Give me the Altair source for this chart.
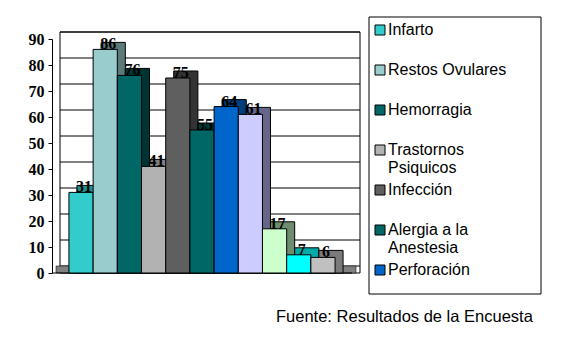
import altair as alt
import pandas as pd

categories = ["Infarto", "Restos Ovulares", "Hemorragia", "Trastornos Psiquicos",
              "Infección", "Alergia a la Anestesia", "Perforación",
              "Categoría 8", "Categoría 9", "Categoría 10", "Categoría 11"]
values = [31, 86, 76, 41, 75, 55, 64, 61, 17, 7, 6]
front_colors = ["#33CCCC", "#99CCCC", "#006666", "#B2B2B2", "#5F5F5F", "#006666",
                "#0066CC", "#CCCCFF", "#CCFFCC", "#00FFFF", "#C0C0C0"]
side_colors = ["#1F8F8F", "#5C7A7A", "#003333", "#808080", "#333333", "#003838",
               "#003D7A", "#66668A", "#6E8C6E", "#00A8A8", "#7A7A7A"]
legend_shown = categories[:7]
grid_values = [0, 10, 20, 30, 40, 50, 60, 70, 80, 90]
y_ticks = grid_values
caption = "Fuente: Resultados de la Encuesta"

df = pd.DataFrame({"cat": categories, "val": values, "front": front_colors, "side": side_colors})
ldf = pd.DataFrame({"cat": legend_shown, "idx": list(range(len(legend_shown))),
                    "front": front_colors[:len(legend_shown)]})
gdf = pd.DataFrame({"g": grid_values})

W, H = 300, 234
DX, DY = 8, -7

yscale = alt.Scale(domain=[0, 90], nice=False, zero=True)
xscale = alt.Scale(domain=categories, paddingInner=0, paddingOuter=0.7)
yaxis = alt.Axis(values=y_ticks, title=None, grid=False, domain=True,
                 domainColor="black", tickColor="black", tickSize=4,
                 labelOverlap=False, labelFlush=False,
                 labelFont="Liberation Serif", labelFontWeight="bold",
                 labelFontSize=16, labelColor="black", labelPadding=4)
xaxis = alt.Axis(labels=False, ticks=False, title=None, domain=False)

x_enc = alt.X("cat:N", scale=xscale, sort=categories, axis=xaxis)
y_enc = alt.Y("val:Q", scale=yscale, axis=yaxis, title=None)

base = alt.Chart(df)

wall = alt.Chart(gdf).transform_filter("datum.g == 90").mark_rect(
    fill="white", stroke="black", strokeWidth=1, yOffset=DY).encode(
    x=alt.value(DX), x2=alt.value(W + DX),
    y=alt.Y("g:Q", scale=yscale, axis=yaxis, title=None), y2=alt.datum(0))

grid = alt.Chart(gdf).mark_rule(color="black", strokeWidth=1, yOffset=DY).encode(
    x=alt.value(DX), x2=alt.value(W + DX), y=alt.Y("g:Q", scale=yscale, axis=yaxis, title=None))

floor = alt.Chart(gdf).transform_filter("datum.g == 0").mark_rect(
    fill="#808080", stroke="black", strokeWidth=0.5).encode(
    x=alt.value(4), x2=alt.value(W + 4),
    y=alt.value(H + DY), y2=alt.value(H))

baseline = alt.Chart(gdf).transform_filter("datum.g == 0").mark_rule(color="black").encode(
    x=alt.value(0), x2=alt.value(W), y=alt.Y("g:Q", scale=yscale, axis=yaxis, title=None))

shadow = base.mark_bar(stroke="black", strokeWidth=1, xOffset=DX, yOffset=DY).encode(
    x=x_enc, y=y_enc, y2=alt.datum(0),
    fill=alt.Fill("side:N", scale=None))

front = base.mark_bar(stroke="black", strokeWidth=1).encode(
    x=x_enc, y=y_enc, y2=alt.datum(0),
    fill=alt.Fill("front:N", scale=None))

labels = base.mark_text(font="Liberation Serif", fontWeight="bold", fontSize=16,
                        color="black", baseline="alphabetic", dx=3, dy=0).encode(
    x=x_enc, y=y_enc, text=alt.Text("val:Q"))

legend_box = alt.Chart(gdf).transform_filter("datum.g == 0").mark_rect(
    fill="white", stroke="black", strokeWidth=1).encode(
    x=alt.value(317), x2=alt.value(489), y=alt.value(-22), y2=alt.value(255))

legend_calc = alt.Chart(ldf).transform_calculate(
    ly="-9 + datum.idx * 40",
    lbl="datum.cat == 'Trastornos Psiquicos' ? 'Trastornos|Psiquicos' : "
        "datum.cat == 'Alergia a la Anestesia' ? 'Alergia a la|Anestesia' : datum.cat")

legend_sym = legend_calc.mark_square(size=100, stroke="black", strokeWidth=1, opacity=1).encode(
    x=alt.value(328), y=alt.Y("ly:Q", scale=None, axis=None),
    fill=alt.Fill("front:N", scale=None))

legend_txt = legend_calc.mark_text(font="Liberation Sans", fontSize=16, color="black",
                                   align="left", baseline="top", dy=-8, lineBreak="|",
                                   lineHeight=18).encode(
    x=alt.value(336), y=alt.Y("ly:Q", scale=None, axis=None), text="lbl:N")

cap = alt.Chart(gdf).transform_filter("datum.g == 0").mark_text(
    font="Liberation Sans", fontSize=16.5, color="black", align="left", baseline="middle").encode(
    x=alt.value(224), y=alt.value(278), text=alt.value(caption))

chart = alt.layer(wall, grid, floor, baseline, shadow, front, labels, legend_box,
                  legend_sym, legend_txt, cap).properties(
    width=W, height=H,
    autosize=alt.AutoSizeParams(type="none"),
    padding={"left": 52, "top": 39, "right": 215, "bottom": 80},
    background="white"
).configure_view(stroke=None).configure_axis(domainColor="black")

chart.save("out.html", embed_options={"renderer": "svg", "actions": False})
